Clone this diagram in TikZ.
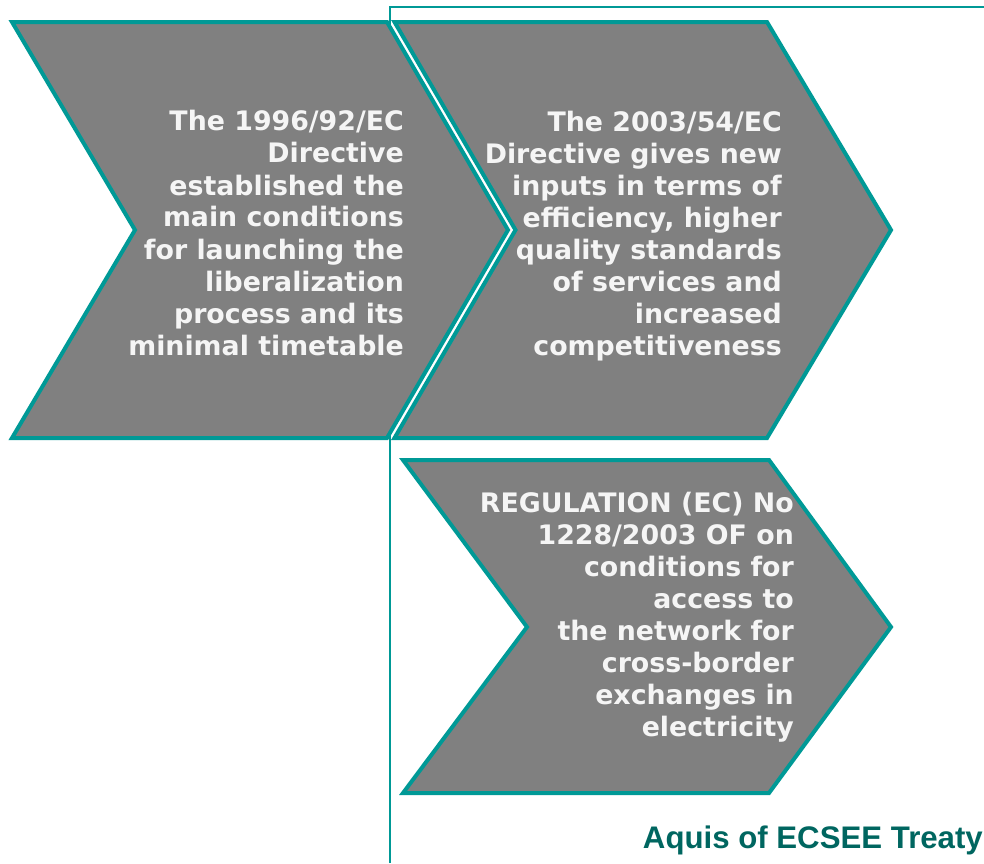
\documentclass[tikz,border=0pt]{standalone}
\usepackage{fontspec}
\newfontfamily\chevfont{DejaVu Sans}
\newfontfamily\titlefont{Liberation Sans}
\definecolor{tealb}{RGB}{0,153,150}
\definecolor{chevgray}{RGB}{128,128,128}
\definecolor{chevtext}{RGB}{245,245,245}
\definecolor{titleteal}{RGB}{0,102,96}
\tikzset{
  chevron/.style={draw=tealb, fill=chevgray, line width=4pt, line join=miter},
  frameline/.style={draw=tealb, line width=2pt},
  chevtxt/.style={text=chevtext, font=\chevfont\bfseries\fontsize{26.8}{32}\selectfont, align=right, inner sep=0pt, anchor=east},
  titletxt/.style={text=titleteal, font=\titlefont\bfseries\fontsize{31.2}{36}\selectfont, inner sep=0pt, anchor=base east}
}
\begin{document}
\begin{tikzpicture}[x=1pt,y=-1pt]
\useasboundingbox (0,0) rectangle (984,863);
% frame lines
\coordinate (fb) at (390,863);
\coordinate (ft) at (390,7);
\coordinate (fr) at (984,7);
\draw[frameline] (fb) -- (ft) -- (fr);
% chevrons
\draw[chevron] (12,22) -- (387,22) -- (508,230) -- (387,438) -- (12,438) -- (135,230) -- cycle;
\draw[chevron] (394.5,22) -- (767,22) -- (891,230) -- (767,438) -- (394.5,438) -- (515.5,230) -- cycle;
\draw[chevron] (403,460) -- (769,460) -- (891,627) -- (769,793) -- (403,793) -- (527,627) -- cycle;
% texts
\node[chevtxt] (t1) at (404,233) {The 1996/92/EC\\Directive\\established the\\main conditions\\for launching the\\liberalization\\process and its\\minimal timetable};
\node[chevtxt] (t2) at (782,236) {The 2003/54/EC\\Directive gives new\\inputs in terms of\\efficiency, higher\\quality standards\\of services and\\increased\\competitiveness};
\node[chevtxt] (t3) at (794,617) {REGULATION (EC) No\\1228/2003 OF on\\conditions for\\access to\\the network for\\cross-border\\exchanges in\\electricity};
\node[titletxt] (title) at (983,848) {Aquis of ECSEE Treaty};
\end{tikzpicture}
\end{document}
